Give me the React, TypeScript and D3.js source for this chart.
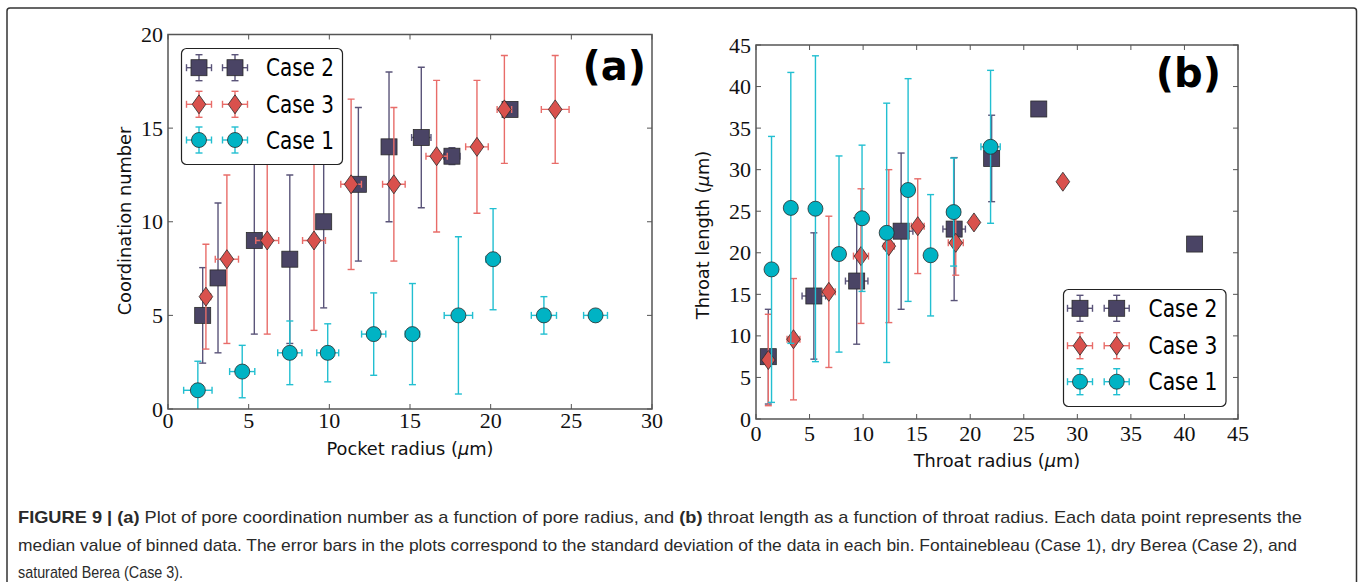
import React from "react";
import * as d3 from "d3";

// ---------- Panel (a): coordination number vs pocket radius ----------
const aCase2X = [2.15, 3.1, 5.35, 7.55, 9.65, 11.8, 13.7, 15.7, 17.6, 21.2];
const aCase2Y = [5, 7, 9, 8, 10, 12, 14, 14.5, 13.5, 16];
const aCase2Yerr = [2.55, 4, 5, 4.5, 4.6, 4.1, 4, 3.75, 0.45, 0];
const aCase2Xerr = [0.3, 0.3, 0.3, 0.3, 0.3, 0.3, 0.3, 0.6, 0.5, 0.3];

const aCase3X = [2.35, 3.65, 6.15, 9.05, 11.35, 14.0, 16.65, 19.15, 20.85, 24.0];
const aCase3Y = [6, 8, 9, 9, 12, 12, 13.5, 14, 16, 16];
const aCase3Yerr = [2.8, 4.5, 5, 4.8, 4.55, 4.1, 4.05, 3.55, 2.88, 2.88];
const aCase3Xerr = [0.3, 0.72, 0.71, 0.71, 0.64, 0.7, 0.66, 0.7, 0.45, 0.86];

const aCase1X = [1.85, 4.6, 7.55, 9.9, 12.75, 15.15, 18.0, 20.15, 23.3, 26.5];
const aCase1Y = [1, 2, 3, 3, 4, 4, 5, 8, 5, 5];
const aCase1Yerr = [1.55, 1.4, 1.7, 1.55, 2.2, 2.7, 4.2, 2.7, 1.0, 0.1];
const aCase1Xerr = [0.88, 0.78, 0.75, 0.68, 0.75, 0.45, 0.88, 0.45, 0.78, 0.74];

const aXTicks = [0, 5, 10, 15, 20, 25, 30];
const aYTicks = [0, 5, 10, 15, 20];

// ---------- Panel (b): throat length vs throat radius ----------
const bCase2X = [1.15, 5.4, 9.4, 13.55, 18.5, 22.0, 26.4, 40.95];
const bCase2Y = [7.5, 14.8, 16.6, 22.6, 22.85, 31.35, 37.3, 21.05];
const bCase2Yerr = [5.7, 7.6, 7.6, 9.4, 8.6, 5.2, 0, 0];
const bCase2Xerr = [0.4, 1.1, 1.05, 1.1, 1.05, 0.5, 0, 0];

const bCase3X = [1.15, 3.5, 6.8, 9.8, 12.4, 15.1, 18.65, 20.35, 28.65];
const bCase3Y = [7.1, 9.6, 15.3, 19.6, 20.8, 23.2, 21.2, 23.65, 28.55];
const bCase3Yerr = [5.5, 7.3, 9.1, 8.1, 9.2, 5.7, 3.9, 0, 0];
const bCase3Xerr = [0.3, 0.6, 0.6, 0.7, 0.5, 0.6, 0.7, 0, 0];

const bCase1X = [1.45, 3.25, 5.55, 7.75, 9.9, 12.2, 14.2, 16.3, 18.45, 21.9];
const bCase1Y = [18, 25.4, 25.3, 19.85, 24.15, 22.4, 27.55, 19.7, 24.9, 32.75];
const bCase1Yerr = [16, 16.3, 18.4, 11.8, 8.8, 15.6, 13.4, 7.3, 6.5, 9.2];
const bCase1Xerr = [0.3, 0.3, 0.3, 0.3, 0.4, 0.3, 0.4, 0.3, 0.6, 0.9];

const bXTicks = [0, 5, 10, 15, 20, 25, 30, 35, 40, 45];
const bYTicks = [0, 5, 10, 15, 20, 25, 30, 35, 40, 45];

const legendNames = ["Case 2", "Case 3", "Case 1"];

const captionLine1 = [
  { t: "FIGURE 9 | (a)", b: true },
  { t: " Plot of pore coordination number as a function of pore radius, and ", b: false },
  { t: "(b)", b: true },
  { t: " throat length as a function of throat radius. Each data point represents the", b: false },
];
const captionLine2 =
  "median value of binned data. The error bars in the plots correspond to the standard deviation of the data in each bin. Fontainebleau (Case 1), dry Berea (Case 2), and";
const captionLine3 = "saturated Berea (Case 3).";

// ---------- styles ----------
type Shape = "square" | "diamond" | "circle";
const STYLE: Record<string, { shape: Shape; fill: string; err: string }> = {
  "Case 2": { shape: "square", fill: "#4a4465", err: "#5a5479" },
  "Case 3": { shape: "diamond", fill: "#d9514d", err: "#e86c69" },
  "Case 1": { shape: "circle", fill: "#00b3c4", err: "#22bfd1" },
};

interface Series {
  name: string;
  x: number[];
  y: number[];
  xerr: number[];
  yerr: number[];
}

function Marker({ shape, cx, cy, fill }: { shape: Shape; cx: number; cy: number; fill: string }) {
  const stroke = "#2b2b2b";
  if (shape === "square")
    return <rect x={cx - 8} y={cy - 8} width={16} height={16} fill={fill} stroke={stroke} strokeWidth={0.8} />;
  if (shape === "diamond")
    return (
      <path
        d={`M${cx},${cy - 9.5}L${cx + 6.8},${cy}L${cx},${cy + 9.5}L${cx - 6.8},${cy}Z`}
        fill={fill}
        stroke={stroke}
        strokeWidth={0.8}
      />
    );
  return <circle cx={cx} cy={cy} r={7.5} fill={fill} stroke={stroke} strokeWidth={0.8} />;
}

function ErrBar({ x, y, x0, x1, y0, y1, color }: any) {
  const cap = 3.5;
  const els: any[] = [];
  if (Math.abs(y1 - y0) > 0.5) {
    els.push(<line key="v" x1={x} x2={x} y1={y0} y2={y1} />);
    els.push(<line key="vc0" x1={x - cap} x2={x + cap} y1={y0} y2={y0} />);
    els.push(<line key="vc1" x1={x - cap} x2={x + cap} y1={y1} y2={y1} />);
  }
  if (Math.abs(x1 - x0) > 0.5) {
    els.push(<line key="h" x1={x0} x2={x1} y1={y} y2={y} />);
    els.push(<line key="hc0" x1={x0} x2={x0} y1={y - cap} y2={y + cap} />);
    els.push(<line key="hc1" x1={x1} x2={x1} y1={y - cap} y2={y + cap} />);
  }
  return (
    <g stroke={color} strokeWidth={1.4} fill="none">
      {els}
    </g>
  );
}

function Panel(props: {
  id: string;
  xDomain: [number, number];
  yDomain: [number, number];
  xRange: [number, number];
  yRange: [number, number];
  xTicks: number[];
  yTicks: number[];
  series: Series[];
  yLabelEnd: number;
  xTickBaseline: number;
  xTitle: { x: number; y: number; text: string };
  yTitle: { x: number; y: number; text: string; unit: boolean };
  legend: { x: number; y: number; w: number; h: number; rows: number[]; m1: number; m2: number; tx: number; tl: number };
  tag: { x: number; y: number; text: string };
}) {
  const xs = d3.scaleLinear().domain(props.xDomain).range(props.xRange);
  const ys = d3.scaleLinear().domain(props.yDomain).range(props.yRange);
  const [L, R] = props.xRange;
  const [B, T] = props.yRange;
  const tickLen = 5;
  const spine = "#555";
  const serif = "'Liberation Serif', 'DejaVu Serif', serif";
  const sans = "'DejaVu Sans', 'Liberation Sans', sans-serif";
  const lg = props.legend;
  return (
    <g>
      <defs>
        <clipPath id={`clip-${props.id}`}>
          <rect x={L} y={T} width={R - L} height={B - T} />
        </clipPath>
      </defs>
      <g clipPath={`url(#clip-${props.id})`}>
        {props.series.map((s) => {
          const st = STYLE[s.name];
          return (
            <g key={s.name}>
              {s.x.map((xv, i) => (
                <ErrBar
                  key={i}
                  x={xs(xv)}
                  y={ys(s.y[i])}
                  x0={xs(xv - s.xerr[i])}
                  x1={xs(xv + s.xerr[i])}
                  y0={ys(s.y[i] - s.yerr[i])}
                  y1={ys(s.y[i] + s.yerr[i])}
                  color={st.err}
                />
              ))}
              {s.x.map((xv, i) => (
                <Marker key={i} shape={st.shape} cx={xs(xv)} cy={ys(s.y[i])} fill={st.fill} />
              ))}
            </g>
          );
        })}
      </g>
      <rect x={L} y={T} width={R - L} height={B - T} fill="none" stroke={spine} strokeWidth={1.5} />
      <g stroke={spine} strokeWidth={1}>
        {props.xTicks.map((t) => (
          <g key={`xt${t}`}>
            <line x1={xs(t)} x2={xs(t)} y1={B} y2={B - tickLen} />
            <line x1={xs(t)} x2={xs(t)} y1={T} y2={T + tickLen} />
          </g>
        ))}
        {props.yTicks.map((t) => (
          <g key={`yt${t}`}>
            <line x1={L} x2={L + tickLen} y1={ys(t)} y2={ys(t)} />
            <line x1={R} x2={R - tickLen} y1={ys(t)} y2={ys(t)} />
          </g>
        ))}
      </g>
      <g fontFamily={serif} fontSize={22} fill="#111">
        {props.xTicks.map((t) => (
          <text key={`xl${t}`} x={xs(t)} y={props.xTickBaseline} textAnchor="middle">
            {t}
          </text>
        ))}
        {props.yTicks.map((t) => (
          <text key={`yl${t}`} x={props.yLabelEnd} y={ys(t) + 7.5} textAnchor="end">
            {t}
          </text>
        ))}
      </g>
      <text x={props.xTitle.x} y={props.xTitle.y} textAnchor="middle" fontFamily={sans} fontSize={17.8} fill="#111">
        {props.xTitle.text} (<tspan fontStyle="italic">μ</tspan>m)
      </text>
      <text
        transform={`translate(${props.yTitle.x},${props.yTitle.y}) rotate(-90)`}
        textAnchor="middle"
        fontFamily={sans}
        fontSize={17.8}
        fill="#111"
      >
        {props.yTitle.text}
        {props.yTitle.unit ? (
          <>
            {" ("}
            <tspan fontStyle="italic">μ</tspan>
            {"m)"}
          </>
        ) : null}
      </text>
      <rect x={lg.x} y={lg.y} width={lg.w} height={lg.h} rx={5} fill="#fff" stroke="#222" strokeWidth={1.2} />
      {legendNames.map((n, i) => {
        const st = STYLE[n];
        const cy = lg.rows[i];
        return (
          <g key={n}>
            {[lg.m1, lg.m2].map((mx, j) => (
              <g key={j}>
                <ErrBar x={mx} y={cy} x0={mx - 12.5} x1={mx + 12.5} y0={cy + 13} y1={cy - 13} color={st.err} />
                <Marker shape={st.shape} cx={mx} cy={cy} fill={st.fill} />
              </g>
            ))}
            <text
              x={lg.tx}
              y={cy + 8.5}
              fontFamily={sans}
              fontSize={24}
              fill="#000"
              textLength={lg.tl}
              lengthAdjust="spacingAndGlyphs"
            >
              {n}
            </text>
          </g>
        );
      })}
      <text x={props.tag.x} y={props.tag.y} textAnchor="end" fontFamily={sans} fontWeight="bold" fontSize={40} fill="#000">
        {props.tag.text}
      </text>
    </g>
  );
}

export default function App() {
  const seriesA: Series[] = [
    { name: "Case 2", x: aCase2X, y: aCase2Y, xerr: aCase2Xerr, yerr: aCase2Yerr },
    { name: "Case 3", x: aCase3X, y: aCase3Y, xerr: aCase3Xerr, yerr: aCase3Yerr },
    { name: "Case 1", x: aCase1X, y: aCase1Y, xerr: aCase1Xerr, yerr: aCase1Yerr },
  ];
  const seriesB: Series[] = [
    { name: "Case 2", x: bCase2X, y: bCase2Y, xerr: bCase2Xerr, yerr: bCase2Yerr },
    { name: "Case 3", x: bCase3X, y: bCase3Y, xerr: bCase3Xerr, yerr: bCase3Yerr },
    { name: "Case 1", x: bCase1X, y: bCase1Y, xerr: bCase1Xerr, yerr: bCase1Yerr },
  ];
  const capFont = "'Liberation Sans', Arial, sans-serif";
  return (
    <svg
      width={1362}
      height={582}
      style={{ position: "absolute", left: 0, top: 0, background: "#fff" }}
      xmlns="http://www.w3.org/2000/svg"
    >
      <rect x={0} y={0} width={1362} height={582} fill="#fff" />
      <rect x={7} y={8} width={1349.5} height={620} rx={3} fill="none" stroke="#333" strokeWidth={1.5} />
      <Panel
        id="a"
        xDomain={[0, 30]}
        yDomain={[0, 20]}
        xRange={[168, 652]}
        yRange={[409, 34.5]}
        xTicks={aXTicks}
        yTicks={aYTicks}
        series={seriesA}
        yLabelEnd={163}
        xTickBaseline={428}
        xTitle={{ x: 410, y: 455, text: "Pocket radius" }}
        yTitle={{ x: 131, y: 221, text: "Coordination number", unit: false }}
        legend={{ x: 181.5, y: 48.5, w: 161, h: 116, rows: [67.7, 104.3, 140], m1: 199, m2: 235, tx: 266, tl: 68 }}
        tag={{ x: 646, y: 80, text: "(a)" }}
      />
      <Panel
        id="b"
        xDomain={[0, 45]}
        yDomain={[0, 45]}
        xRange={[756, 1238]}
        yRange={[419, 45]}
        xTicks={bXTicks}
        yTicks={bYTicks}
        series={seriesB}
        yLabelEnd={751}
        xTickBaseline={441}
        xTitle={{ x: 997, y: 467, text: "Throat radius" }}
        yTitle={{ x: 709, y: 235, text: "Throat length", unit: true }}
        legend={{ x: 1063.5, y: 289.5, w: 162.5, h: 117, rows: [308.3, 345.7, 381.7], m1: 1080, m2: 1116.7, tx: 1148.5, tl: 69 }}
        tag={{ x: 1221, y: 87, text: "(b)" }}
      />
      <g fontFamily={capFont} fontSize={17} fill="#2a2a2a">
        <text x={18} y={523} textLength={1284} lengthAdjust="spacingAndGlyphs">
          {captionLine1.map((p, i) => (
            <tspan key={i} fontWeight={p.b ? "bold" : "normal"}>
              {p.t}
            </tspan>
          ))}
        </text>
        <text x={18} y={551} textLength={1279} lengthAdjust="spacingAndGlyphs">
          {captionLine2}
        </text>
        <text x={18} y={578} textLength={165} lengthAdjust="spacingAndGlyphs">
          {captionLine3}
        </text>
      </g>
    </svg>
  );
}
